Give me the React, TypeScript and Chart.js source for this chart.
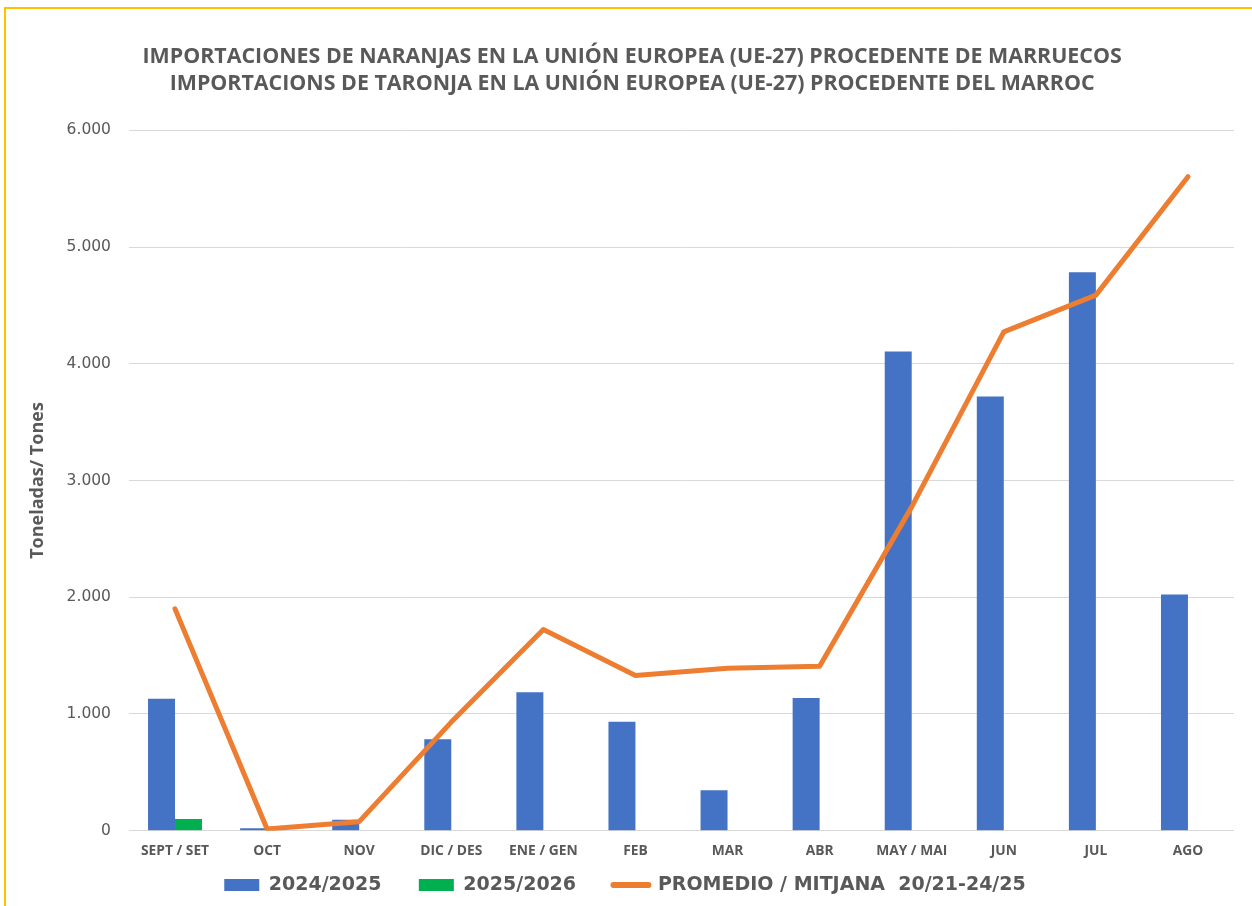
import React, { useEffect, useRef } from "react";
import { Chart, registerables } from "chart.js";

Chart.register(...registerables);

const categories = [
  "SEPT / SET",
  "OCT",
  "NOV",
  "DIC / DES",
  "ENE / GEN",
  "FEB",
  "MAR",
  "ABR",
  "MAY / MAI",
  "JUN",
  "JUL",
  "AGO",
];

const season2425 = [1130, 20, 94, 783, 1186, 934, 346, 1137, 4106, 3720, 4785, 2024];
const season2526: (number | null)[] = [100, null, null, null, null, null, null, null, null, null, null, null];
const average2021_2425 = [1900, 14, 77, 930, 1723, 1329, 1391, 1409, 2774, 4274, 4588, 5603];

const seriesNames = ["2024/2025", "2025/2026", "PROMEDIO / MITJANA  20/21-24/25"];
const titleLines = [
  "IMPORTACIONES DE NARANJAS EN LA UNIÓN EUROPEA (UE-27) PROCEDENTE DE MARRUECOS",
  "IMPORTACIONS DE TARONJA EN LA UNIÓN EUROPEA (UE-27) PROCEDENTE DEL MARROC",
];
const yAxisTitle = "Toneladas/ Tones";
const yMin = 0;
const yMax = 6000;
const yStep = 1000;

const BLUE = "#4472C4";
const GREEN = "#00B050";
const ORANGE = "#ED7D31";
const TEXT = "#595959";
const GOLD = "#FFC000";

function formatThousands(v: number): string {
  const s = Math.round(v).toString();
  return s.replace(/\B(?=(\d{3})+(?!\d))/g, ".");
}

const framePlugin = {
  id: "frame",
  beforeDraw(chart: any) {
    const { ctx, width, height } = chart;
    ctx.save();
    ctx.fillStyle = "#FFFFFF";
    ctx.fillRect(0, 0, width, height);
    ctx.strokeStyle = GOLD;
    ctx.lineWidth = 2;
    ctx.beginPath();
    ctx.moveTo(5, height);
    ctx.lineTo(5, 8);
    ctx.lineTo(width, 8);
    ctx.stroke();
    ctx.restore();
  },
};

export default function App() {
  const canvasRef = useRef<HTMLCanvasElement | null>(null);

  useEffect(() => {
    document.body.style.margin = "0";
    const canvas = canvasRef.current;
    if (!canvas) return;
    const chart = new Chart(canvas, {
      type: "bar",
      data: {
        labels: categories,
        datasets: [
          {
            type: "line",
            label: seriesNames[2],
            data: average2021_2425,
            borderColor: ORANGE,
            backgroundColor: ORANGE,
            borderWidth: 5,
            pointRadius: 0,
            tension: 0,
            borderCapStyle: "round",
            borderJoinStyle: "round",
            order: 0,
          } as any,
          {
            type: "bar",
            label: seriesNames[0],
            data: season2425,
            backgroundColor: BLUE,
            borderWidth: 0,
            order: 1,
          },
          {
            type: "bar",
            label: seriesNames[1],
            data: season2526,
            backgroundColor: GREEN,
            borderWidth: 0,
            order: 1,
          },
        ],
      },
      options: {
        responsive: false,
        animation: false,
        layout: { padding: { left: 16, right: 18, top: 0, bottom: 1.5 } },
        datasets: {
          bar: { categoryPercentage: 0.586, barPercentage: 1 },
        },
        scales: {
          x: {
            offset: true,
            grid: { display: false, drawTicks: false },
            border: { display: false },
            ticks: {
              color: TEXT,
              padding: 12,
              maxRotation: 0,
              autoSkip: false,
              font: { family: "'Open Sans'", size: 13.8, weight: "bold" },
            },
          },
          y: {
            min: yMin,
            max: yMax,
            grid: { color: "#D9D9D9", lineWidth: 1, drawTicks: false },
            border: { display: false },
            ticks: {
              stepSize: yStep,
              color: TEXT,
              padding: 18,
              font: { family: "'DejaVu Sans'", size: 15.5 },
              callback: (v: any) => formatThousands(Number(v)),
            },
            title: {
              display: true,
              text: yAxisTitle,
              color: TEXT,
              padding: { top: 11, bottom: 0 },
              font: { family: "'Open Sans'", size: 18, weight: "bold", lineHeight: 1.2 },
            },
          },
        },
        plugins: {
          title: {
            display: true,
            text: titleLines.map((t) => "\u2002\u2009" + t),
            color: TEXT,
            padding: { top: 43.5, bottom: 32.5 },
            font: { family: "'Open Sans'", size: 21.4, weight: "bold", lineHeight: 1.27 },
          },
          tooltip: { enabled: false },
          legend: {
            display: true,
            position: "bottom",
            labels: {
              color: TEXT,
              usePointStyle: true,
              pointStyleWidth: 35,
              boxHeight: 12,
              padding: 4.3,
              font: { family: "'DejaVu Sans'", size: 19, weight: "bold" },
              generateLabels: (ch: any) => {
                const items = Chart.defaults.plugins.legend.labels.generateLabels(ch);
                const byName: any = {};
                items.forEach((it: any) => (byName[it.text] = it));
                const ordered = [byName[seriesNames[0]], byName[seriesNames[1]], byName[seriesNames[2]]];
                return ordered.map((it: any, i: number) => {
                  if (i < 2) {
                    return { ...it, pointStyle: "rect", lineWidth: 0, text: it.text + (i === 0 ? "     " : "     ") };
                  }
                  return {
                    ...it,
                    pointStyle: "line",
                    lineWidth: 6,
                    strokeStyle: ORANGE,
                    fillStyle: ORANGE,
                    lineCap: "round",
                  };
                });
              },
            },
          },
        },
      } as any,
      plugins: [framePlugin],
    });
    return () => chart.destroy();
  }, []);

  return (
    <div style={{ width: 1252, height: 906, position: "relative", overflow: "hidden" }}>
      <canvas ref={canvasRef} width={1252} height={906} style={{ display: "block" }} />
    </div>
  );
}
